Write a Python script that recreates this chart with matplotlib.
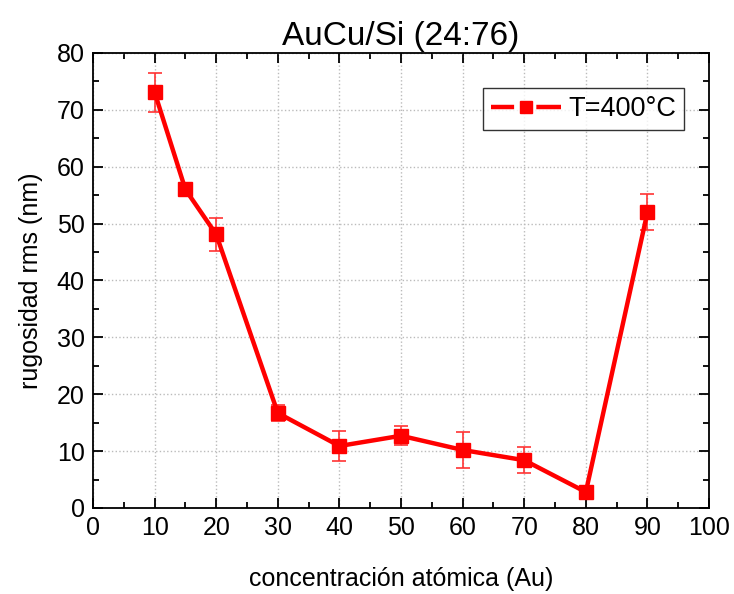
import matplotlib
matplotlib.use("Agg")
import matplotlib.pyplot as plt
from matplotlib.ticker import MultipleLocator
from matplotlib.lines import Line2D

plt.rcParams['font.family'] = ['Liberation Sans', 'DejaVu Sans']

# datos
conc = [10, 15, 20, 30, 40, 50, 60, 70, 80, 90]
rms = [73.1, 56.0, 48.1, 16.7, 10.9, 12.7, 10.2, 8.4, 2.8, 52.0]
err = [3.4, 0.8, 2.9, 1.4, 2.6, 1.7, 3.2, 2.3, 0.5, 3.2]

fig = plt.figure(figsize=(7.34, 5.94), dpi=100)
ax = fig.add_axes([0.1267, 0.1448, 0.8393, 0.766])

ax.errorbar(conc, rms, yerr=err, color='red', lw=3.2, marker='s', ms=9.5,
            ecolor='#ff3333', elinewidth=1.2, capsize=5, capthick=1.2,
            zorder=3)

ax.set_xlim(0, 100)
ax.set_ylim(0, 80)
ax.xaxis.set_major_locator(MultipleLocator(10))
ax.xaxis.set_minor_locator(MultipleLocator(5))
ax.yaxis.set_major_locator(MultipleLocator(10))
ax.yaxis.set_minor_locator(MultipleLocator(5))
ax.tick_params(which='both', direction='in', top=True, right=True, labelsize=18)
ax.tick_params(which='major', length=7, width=1.3, pad=6)
ax.tick_params(which='minor', length=4, width=1.3)
for s in ax.spines.values():
    s.set_linewidth(1.3)
ax.grid(which='major', ls=':', color='#bbbbbb', lw=1)

ax.set_xlabel('concentración atómica (Au)', fontsize=18, labelpad=19)
ax.set_ylabel('rugosidad rms (nm)', fontsize=18, labelpad=10)
ax.set_title('AuCu/Si (24:76)', fontsize=24, pad=6)

# leyenda con hueco alrededor del marcador
h = Line2D([], [], color='red', lw=3.2, ls=(0, (5.2, 5, 20, 1)), marker='s', ms=8)
leg = ax.legend([h], ['T=400°C'], loc='upper right', fontsize=19.5, frameon=True,
                fancybox=False, edgecolor='black', handlelength=2.6,
                handletextpad=0.25, borderpad=0.3, borderaxespad=0,
                bbox_to_anchor=(684 / 734, 1 - 88 / 594),
                bbox_transform=fig.transFigure)
leg.get_frame().set_linewidth(1.0)

fig.savefig('out.png', dpi=100)
